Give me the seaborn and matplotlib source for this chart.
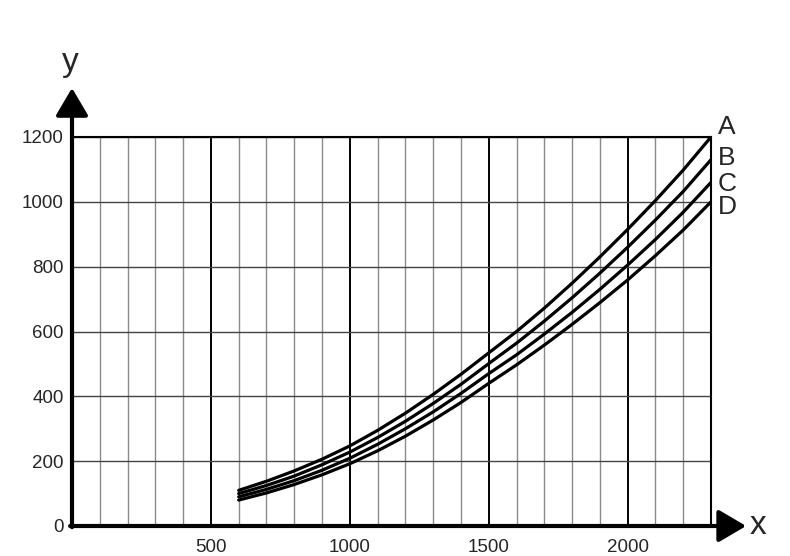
import matplotlib
matplotlib.use("Agg")
import matplotlib.pyplot as plt
import numpy as np
import pandas as pd
import seaborn as sns

# values
x_vals = [600, 700, 800, 900, 1000, 1100, 1200, 1300, 1400, 1500,
          1600, 1700, 1800, 1900, 2000, 2100, 2200, 2300]
curve_a = [110, 138, 170, 206, 247, 295, 348, 406, 468, 534,
           600, 672, 749, 830, 915, 1004, 1098, 1200]
curve_b = [100, 125, 154, 189, 228, 273, 323, 378, 437, 501,
           564, 632, 704, 780, 860, 944, 1032, 1130]
curve_c = [90, 113, 140, 172, 209, 252, 300, 352, 409, 470,
           528, 592, 659, 730, 805, 884, 968, 1060]
curve_d = [80, 102, 128, 158, 192, 232, 277, 327, 381, 440,
           497, 558, 622, 689, 759, 834, 913, 1000]
names = ["A", "B", "C", "D"]
x_major = [500, 1000, 1500, 2000]
y_ticks = [0, 200, 400, 600, 800, 1000, 1200]

rows = []
for name, ys in zip(names, [curve_a, curve_b, curve_c, curve_d]):
    for xv, yv in zip(x_vals, ys):
        rows.append({"x": xv, "y": yv, "curve": name})
df = pd.DataFrame(rows)

sns.set_style("white")
plt.rcParams["font.family"] = ["Liberation Sans", "DejaVu Sans"]

fig = plt.figure(figsize=(7.9, 5.56), dpi=100)
ax = fig.add_axes([72 / 790, 30 / 556, 639 / 790, 389 / 556])

sns.lineplot(data=df, x="x", y="y", hue="curve",
             palette={n: "black" for n in names}, linewidth=2.3,
             legend=False, ax=ax)

ax.set_xlim(0, 2300)
ax.set_ylim(0, 1200)
ax.set_xticks(x_major)
ax.set_xticks(np.arange(100, 2300, 100), minor=True)
ax.set_yticks(y_ticks)
ax.grid(which="minor", axis="x", color="#8a8a8a", linewidth=1.0)
ax.grid(which="major", axis="x", color="black", linewidth=1.4)
ax.grid(which="major", axis="y", color="#444444", linewidth=1.0)
ax.set_axisbelow(True)
ax.tick_params(which="both", length=0, labelsize=13.5)
ax.tick_params(axis="x", pad=9)
ax.tick_params(axis="y", pad=6)
ax.set_xlabel("")
ax.set_ylabel("")

for s in ["top", "right"]:
    ax.spines[s].set_color("black")
    ax.spines[s].set_linewidth(1.5)
for s in ["left", "bottom"]:
    ax.spines[s].set_visible(False)

# axes with arrowheads
arrow = dict(arrowstyle="-|>,head_length=0.85,head_width=0.5", lw=3,
             color="black", mutation_scale=20, shrinkA=0, shrinkB=0)
ax.annotate("", xy=(0, 1.126), xytext=(0, -0.003), xycoords="axes fraction",
            arrowprops=arrow, annotation_clip=False)
ax.annotate("", xy=(1.055, 0), xytext=(-0.003, 0), xycoords="axes fraction",
            arrowprops=arrow, annotation_clip=False)
fig.text(70 / 790, 1 - 62 / 556, "y", fontsize=24, ha="center", va="center")
fig.text(758 / 790, 1 - 525 / 556, "x", fontsize=24, ha="center", va="center")

# curve labels
offsets = [7, 1, -1, -4]
for name, ys, dy in zip(names, [curve_a, curve_b, curve_c, curve_d], offsets):
    ax.annotate(name, xy=(x_vals[-1], ys[-1]), xytext=(5, dy),
                textcoords="offset points", fontsize=19,
                ha="left", va="center", annotation_clip=False)

fig.savefig("out.png", dpi=100)
